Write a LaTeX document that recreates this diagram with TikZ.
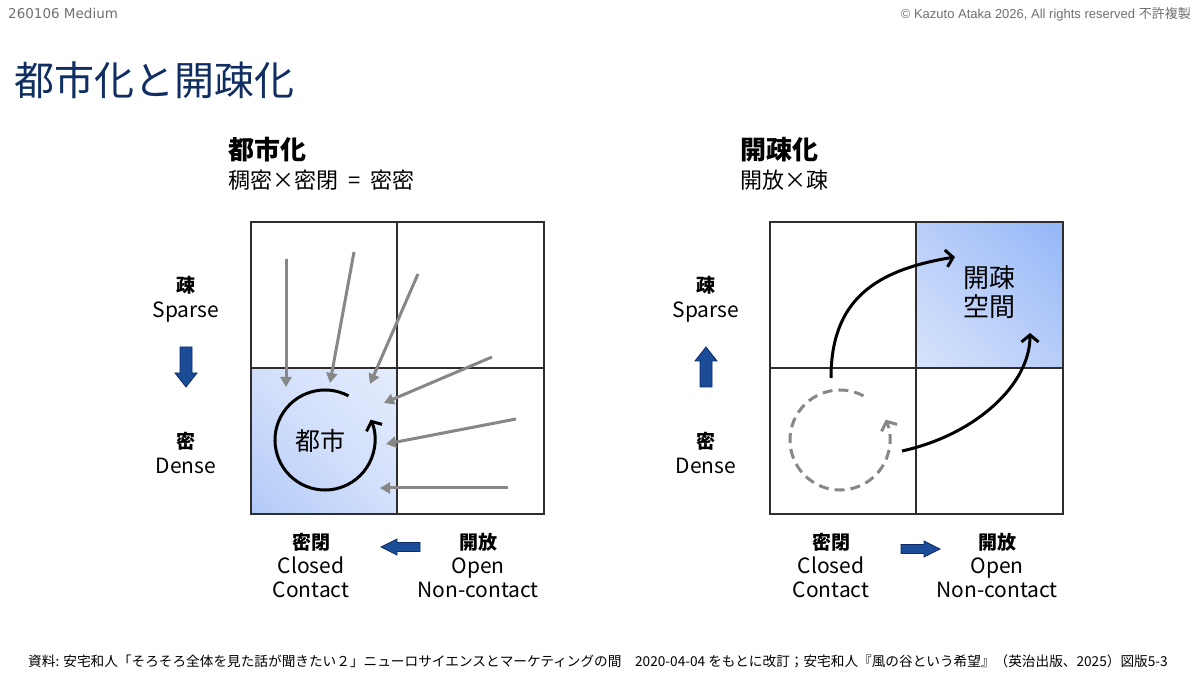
\documentclass[tikz,border=0pt]{standalone}
\usepackage{fontspec}
\setmainfont{Noto Sans CJK JP}
\newfontfamily\verd{DejaVu Sans}
\newfontfamily\arialf{Liberation Sans}
\usetikzlibrary{arrows.meta}
\newcommand\myfs[1]{\fontsize{#1}{#1}\selectfont}
\definecolor{navy}{HTML}{112E63}
\definecolor{hdrgray}{HTML}{707070}
\definecolor{arrgray}{HTML}{878787}
\definecolor{gridc}{HTML}{2E2E2E}
\definecolor{barfill}{HTML}{1B4C97}
\definecolor{bardraw}{HTML}{0B2C66}
\definecolor{ldark}{HTML}{B0C8F7}
\definecolor{lmid}{HTML}{D2DFFB}
\definecolor{llight}{HTML}{E6EEFD}
\definecolor{rdark}{HTML}{90B5F7}
\definecolor{rmid}{HTML}{B8CEF9}
\definecolor{rlight}{HTML}{DAE5FC}
\begin{document}
\begin{tikzpicture}[x=1pt,y=1pt,
  gridline/.style={draw=gridc, line width=1.4pt},
  garr/.style={draw=arrgray, line width=3pt, -{Triangle[length=10pt,width=11pt]}},
  cyc/.style={draw=black, line width=3pt, -{Straight Barb[length=7pt,width=17pt]}},
  dcyc/.style={draw=arrgray, line width=3pt, dash pattern=on 10pt off 6pt, -{Straight Barb[length=7pt,width=17pt]}},
  blk/.style={draw=black, line width=3pt, -{Straight Barb[length=7pt,width=17pt]}},
  barr/.style={fill=barfill, draw=bardraw, line width=0.8pt, line join=miter},
  kl/.style={inner sep=0, font=\bfseries\myfs{19}},
  ll/.style={inner sep=0, font=\myfs{21}, text height=15pt, text depth=0pt},
  ptitle/.style={anchor=west, inner sep=0, font=\bfseries\myfs{26}},
  psub/.style={anchor=west, inner sep=0, font=\myfs{22}},
  inner/.style={inner sep=0, font=\myfs{25}}]
\useasboundingbox (0,0) rectangle (1200,675);
\fill[white] (0,0) rectangle (1200,675);
% header
\node[anchor=west, inner sep=0, text=hdrgray, font=\verd\myfs{13.5}] (hdr) at (8,662) {260106 Medium};
\node[anchor=east, inner sep=0, text=hdrgray, font=\arialf\myfs{13}] (copy) at (1191,661) {© Kazuto Ataka 2026, All rights reserved {\rmfamily 不許複製}};
\node[anchor=west, inner sep=0, text=navy, font=\myfs{40}] (title) at (14,595) {都市化と開疎化};
% ---------- left panel ----------
\node[ptitle] (lt1) at (228,525) {都市化};
\node[psub] (lt2) at (228,495) {稠密×密閉\hspace{0.45em}=\hspace{0.45em}密密};
\begin{scope}
  \clip (251,161) rectangle (397,307);
  \shade[bottom color=ldark, top color=llight, middle color=lmid, transform canvas={rotate around={-45:(324,234)}}] (214,124) rectangle (434,344);
\end{scope}
\draw[gridline] (251,161) rectangle (544,453) (397,161) -- (397,453) (251,307) -- (544,307);
\draw[cyc] (325,235) ++(62:50) arc[start angle=62, end angle=384, radius=50];
\node[inner] (city) at (320,234) {都市};
\coordinate (g1a) at (286,416); \coordinate (g1b) at (286,288);
\coordinate (g2a) at (354,423); \coordinate (g2b) at (330,292);
\coordinate (g3a) at (418,401); \coordinate (g3b) at (370,291);
\coordinate (g4a) at (492,318); \coordinate (g4b) at (384,272);
\coordinate (g5a) at (516,256); \coordinate (g5b) at (386,231);
\coordinate (g6a) at (508,187); \coordinate (g6b) at (380,187);
\draw[garr] (g1a) -- (g1b);
\draw[garr] (g2a) -- (g2b);
\draw[garr] (g3a) -- (g3b);
\draw[garr] (g4a) -- (g4b);
\draw[garr] (g5a) -- (g5b);
\draw[garr] (g6a) -- (g6b);
\node[kl] (lsp) at (186,390) {疎};
\node[ll] (lspe) at (186,365) {Sparse};
\draw[barr] (180,328) -- (192,328) -- (192,302) -- (197,302) -- (186,288) -- (175,302) -- (180,302) -- cycle;
\node[kl] (lde) at (186,234) {密};
\node[ll] (ldee) at (186,209) {Dense};
\node[kl] (lcl) at (311,133) {密閉};
\node[ll] (lcl1) at (311,109) {Closed};
\node[ll] (lcl2) at (311,85) {Contact};
\draw[barr] (420,123.5) -- (397,123.5) -- (397,120) -- (381,128) -- (397,136) -- (397,132.5) -- (420,132.5) -- cycle;
\node[kl] (lop) at (478,133) {開放};
\node[ll] (lop1) at (478,109) {Open};
\node[ll] (lop2) at (478,85) {Non-contact};
% ---------- right panel ----------
\node[ptitle] (rt1) at (740,525) {開疎化};
\node[psub] (rt2) at (740,495) {開放×疎};
\begin{scope}
  \clip (916,307) rectangle (1063,453);
  \shade[bottom color=rlight, top color=rdark, middle color=rmid, transform canvas={rotate around={-45:(989.5,380)}}] (879.5,270) rectangle (1099.5,490);
\end{scope}
\draw[gridline] (770,161) rectangle (1063,453) (916,161) -- (916,453) (770,307) -- (1063,307);
\node[inner, font=\myfs{26}] (rs1) at (989,397) {開疎};
\node[inner, font=\myfs{26}] (rs2) at (989,368) {空間};
\draw[dcyc] (840,235) ++(62:50) arc[start angle=62, end angle=384, radius=50];
\coordinate (c1a) at (831,297); \coordinate (c1b) at (955,418);
\coordinate (c2a) at (902,224); \coordinate (c2b) at (1030,342);
\draw[blk] (c1a) .. controls (831,375) and (875,405) .. (c1b);
\draw[blk] (c2a) .. controls (975,240) and (1030,290) .. (c2b);
\node[kl] (rsp) at (706,390) {疎};
\node[ll] (rspe) at (706,365) {Sparse};
\draw[barr] (700,288) -- (712,288) -- (712,314) -- (717,314) -- (706,328) -- (695,314) -- (700,314) -- cycle;
\node[kl] (rde) at (706,234) {密};
\node[ll] (rdee) at (706,209) {Dense};
\node[kl] (rcl) at (831,133) {密閉};
\node[ll] (rcl1) at (831,109) {Closed};
\node[ll] (rcl2) at (831,85) {Contact};
\draw[barr] (901,121.5) -- (924,121.5) -- (924,118) -- (940,126) -- (924,134) -- (924,130.5) -- (901,130.5) -- cycle;
\node[kl] (rop) at (997,133) {開放};
\node[ll] (rop1) at (997,109) {Open};
\node[ll] (rop2) at (997,85) {Non-contact};
% footer
\node[anchor=west, inner sep=0, font=\myfs{13.65}] (foot) at (28,14) {資料: 安宅和人「そろそろ全体を見た話が聞きたい２」ニューロサイエンスとマーケティングの間　2020-04-04 をもとに改訂；安宅和人『風の谷という希望』（英治出版、2025）図版5-3};
\end{tikzpicture}
\end{document}
